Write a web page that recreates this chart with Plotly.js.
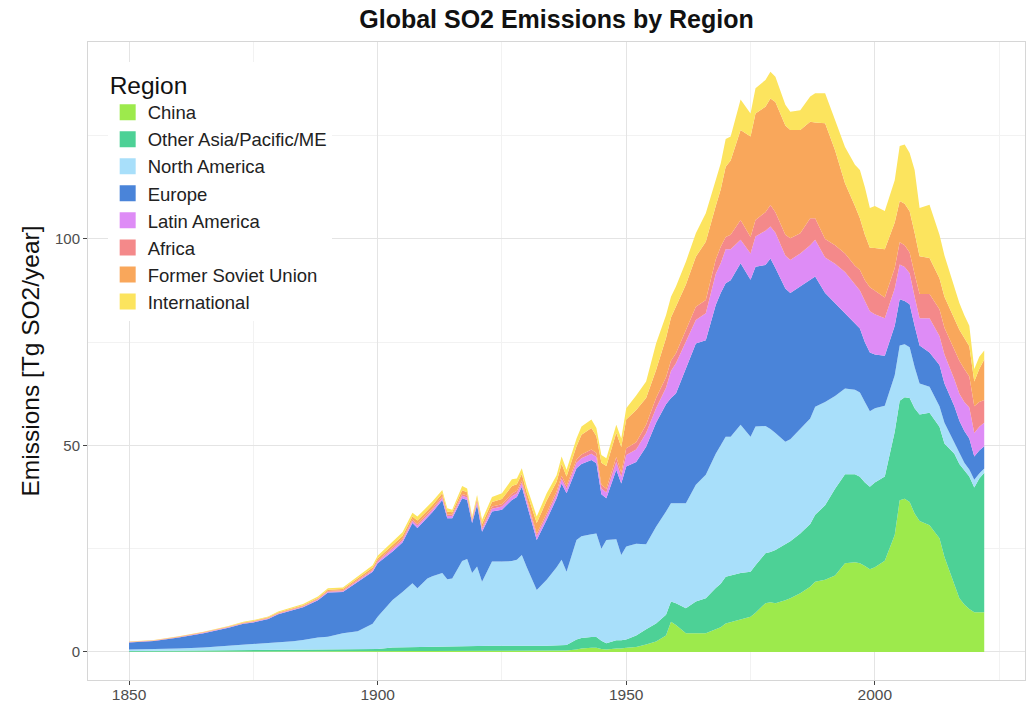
<!DOCTYPE html>
<html>
<head>
<meta charset="utf-8">
<script src="https://cdn.plot.ly/plotly-3.0.1.min.js"></script>
<style>html,body{margin:0;padding:0;background:#fff}#chart{width:1027px;height:702px}</style>
</head>
<body>
<div id="chart"></div>
<script>
const years = [1850,1855,1860,1865,1870,1873,1875,1878,1880,1883,1885,1888,1890,1893,1896,1899,1900,
  1903,1905,1907,1908,1910,1911,1913,1914,1915,1917,1918,1919,1920,1921,1923,1925,1927,1928,1929,1930,1932,1934,1936,1937,1938,1940,1941,1943,1944,1945,1946,1948,1949,1950,
  1952,1954,1956,1958,1959,1960,1962,1964,1966,1968,1969,1970,1971,1973,1975,1976,1978,1979,1980,1982,1983,1985,1987,1988,1990,1992,1994,1996,1997,1998,1999,2000,
  2002,2004,2005,2006,2007,2008,2009,2011,2013,2014,2016,2017,2018,2019,2020,2021,2022];

const china = [.05,.05,.06,.07,.08,.08,.09,.09,.1,.1,.1,.11,.11,.12,.12,.13,.13,
  .2,.2,.2,.2,.25,.25,.25,.25,.25,.3,.3,.3,.3,.3,.3,.3,.3,.3,.3,.3,.3,.3,.35,.35,.35,.6,.8,1.0,1.0,.7,.6,.8,.8,1.0,
  1.2,1.8,2.5,4.0,7.3,6.5,4.5,4.5,4.5,5.5,6.0,6.9,7.2,7.8,8.5,9.5,11.8,12.0,11.8,12.5,13.0,14.2,15.8,17.0,17.5,18.5,21.5,21.7,21.5,20.8,20.0,20.5,
  22.1,28.3,36.7,37.1,36.3,33.5,31.7,30.7,27.5,23.0,16.5,13.0,11.5,10.4,9.6,9.6,9.6];

const otherAsia = [.15,.2,.22,.25,.28,.3,.3,.32,.33,.35,.37,.4,.42,.45,.5,.55,.6,
  .9,.95,1.0,1.0,1.05,1.05,1.1,1.1,1.1,1.15,1.15,1.15,1.15,1.15,1.2,1.2,1.25,1.25,1.25,1.25,1.2,1.2,1.3,1.3,1.3,2.4,2.6,2.6,2.6,2.0,1.5,2.0,2.0,2.0,
  2.8,3.7,4.4,5.0,4.9,5.3,6.1,7.7,8.5,10.0,10.5,11.3,11.3,11.3,10.9,11.5,12.1,12.2,12.9,13.5,13.8,14.5,15.2,16.2,18.0,21.0,21.5,21.3,20.9,20.2,20.0,20.5,
  20.4,25.0,24.1,24.6,25.2,25.5,25.8,27.2,27.0,27.5,31.5,32.5,32.5,32.1,30.2,32.4,33.8];

const northAmerica = [.4,.45,.57,.78,1.14,1.32,1.51,1.69,1.87,2.15,2.43,2.99,3.17,3.93,4.38,6.12,7.77,
  11.5,13.35,15.4,14.2,16.5,17.0,17.75,16.25,16.45,20.55,21.05,17.65,19.25,15.55,20.4,20.4,20.45,20.75,21.95,18.95,13.5,16.0,18.85,20.65,17.75,24.1,24.6,24.9,25.1,22.3,25.0,24.5,20.7,22.5,
  22.2,20.6,23.4,25.0,23.8,24.2,25.4,28.3,29.9,32.5,33.5,33.9,33.6,35.9,32.7,33.6,30.8,29.8,28.3,24.9,24.7,25.3,25.5,26.2,25.0,22.5,20.8,20.5,20.4,19.5,18.3,18.0,
  17.1,13.7,13.4,12.8,12.3,10.0,7.5,6.3,5.0,5.0,2.5,2.5,1.8,1.7,1.9,1.2,1.0];

const europe = [1.7,1.95,2.65,3.45,4.35,5.1,5.25,5.9,6.8,7.45,7.9,9.0,10.7,10.0,11.9,12.6,13.0,
  11.7,12.0,14.6,14.6,14.7,15.5,17.7,14.8,14.6,15.2,14.3,12.1,14.9,12.1,12.1,12.5,14.8,15.2,16.5,15.0,12.1,14.5,16.7,18.5,19.0,17.4,17.5,18.0,17.0,13.2,10.1,16.8,17.3,19.4,
  19.8,23.6,25.2,26.0,25.5,26.6,32.5,34.2,32.6,36.0,36.9,37.2,37.9,39.1,38.0,38.7,39.0,41.3,40.0,37.1,35.4,34.5,33.5,31.5,26.4,22.5,18.2,16.0,15.5,14.5,14.2,13.0,
  12.1,12.0,11.2,10.5,10.4,10.0,9.2,8.3,10.0,9.5,9.0,8.0,7.7,7.5,5.6,5.6,5.4];

const latinAmerica = [.05,.06,.07,.08,.1,.1,.11,.12,.14,.15,.16,.18,.2,.22,.26,.3,.35,
  .5,.5,.5,.55,.55,.55,.5,.5,.5,.6,.6,.45,.6,.6,.7,.8,.9,.9,.9,.9,.9,1.0,1.0,1.1,1.1,1.3,1.4,1.5,1.5,1.4,1.4,1.9,1.6,2.8,
  3.0,3.3,3.5,4.0,6.5,7.3,6.5,5.7,6.5,7.5,7.2,8.2,7.5,5.7,6.4,7.3,8.3,7.7,8.5,8.0,8.0,8.0,8.5,8.9,8.6,9.5,10.0,9.5,9.2,10.0,10.0,9.8,
  9.1,9.0,8.4,8.2,7.5,7.0,6.6,8.3,7.0,7.0,6.5,6.5,7.0,7.5,5.7,5.7,5.7];

const africa = [.05,.06,.07,.08,.1,.1,.11,.12,.14,.15,.16,.17,.18,.2,.23,.28,.3,
  .35,.35,.35,.4,.4,.4,.4,.4,.35,.45,.45,.35,.4,.45,.5,.55,.6,.6,.6,.6,.6,.65,.7,.75,.7,.8,.9,1.0,1.0,.9,.9,1.2,1.0,1.6,
  1.8,2.0,2.5,2.5,2.5,2.4,3.0,3.2,3.2,3.5,4.0,3.0,3.5,4.8,4.0,4.0,4.5,5.2,5.0,5.0,5.3,4.9,6.5,5.2,4.5,4.5,4.5,4.5,5.0,5.0,5.8,5.7,
  5.0,5.0,5.4,5.3,5.0,5.5,5.9,5.9,6.5,6.5,7.0,8.0,8.0,7.5,6.5,6.0,5.5];

const formerSovietUnion = [.05,.06,.07,.09,.1,.12,.13,.14,.17,.18,.2,.23,.27,.3,.36,.45,.5,
  .7,.75,.75,.85,.8,.75,.7,.7,.55,.9,.8,.35,.6,.85,1.1,1.3,1.9,1.6,1.6,1.6,2.6,3.0,2.3,2.9,2.3,3.2,4.8,5.2,4.0,5.3,5.5,5.9,6.2,7.0,
  7.8,6.5,6.8,9.5,10.5,11.3,11.0,12.1,14.1,13.0,13.9,17.0,18.0,21.8,24.3,25.8,25.5,25.8,26.7,26.5,26.2,25.0,23.4,23.2,28.0,23.0,17.0,14.5,12.5,11.0,9.6,10.3,
  11.7,11.0,10.0,10.0,10.0,10.0,9.1,8.7,7.5,7.5,7.5,7.5,7.5,7.3,6.0,8.0,9.8];

const international = [.05,.07,.09,.1,.15,.18,.2,.22,.25,.27,.28,.32,.35,.38,.45,.57,.65,
  .85,.9,.9,1.0,.95,.9,.8,.8,.6,1.05,.95,.45,.8,1.0,1.2,1.35,1.6,1.4,1.4,1.4,1.6,1.75,1.6,1.75,1.6,1.9,2.0,2.1,2.0,1.9,1.9,1.9,2.1,2.7,
  3.5,4.0,6.4,5.5,5.0,4.9,5.5,5.7,6.9,6.0,6.3,6.7,5.8,7.4,5.6,6.1,6.5,6.5,6.1,5.0,4.4,4.8,6.1,7.1,7.3,7.3,8.8,10.0,11.7,11.5,9.6,10.2,
  9.3,10.2,13.3,14.4,14.1,15.2,11.7,12.9,10.5,10.0,7.5,6.5,5.5,5.0,3.0,3.0,2.2];

const regionNames = ["China","Other Asia/Pacific/ME","North America","Europe","Latin America","Africa","Former Soviet Union","International"];
const regionValues = [china, otherAsia, northAmerica, europe, latinAmerica, africa, formerSovietUnion, international];
const regionColors = ["#9DEA4C","#4DD196","#A8DFFA","#4A84D9","#DE8CF6","#F4898A","#F9A75B","#FCE45E"];

const areaTraces = regionNames.map((name, i) => ({
  type: "scatter",
  mode: "lines",
  name: name,
  x: years,
  y: regionValues[i],
  stackgroup: "one",
  line: {width: 0, color: regionColors[i]},
  fillcolor: regionColors[i],
  hoverinfo: "skip",
  showlegend: false,
  legendgroup: name
}));

// legend-only entries with square swatches (no data drawn)
const keyTraces = regionNames.map((name, i) => ({
  type: "scatter",
  mode: "markers",
  name: name,
  x: [null],
  y: [null],
  marker: {symbol: "square", size: 26, color: regionColors[i], line: {width: 0}},
  hoverinfo: "skip",
  showlegend: true,
  legendgroup: name
}));

const font = "Liberation Sans, Arial, Helvetica, sans-serif";
const layout = {
  width: 1027, height: 702,
  margin: {l: 88, r: 2, t: 42, b: 22},
  paper_bgcolor: "#ffffff", plot_bgcolor: "#ffffff",
  font: {family: font, color: "#222"},
  title: {text: "<b>Global SO2 Emissions by Region</b>", x: 0.5, xref: "paper", y: 0.973, yanchor: "middle",
          font: {family: font, size: 25, color: "#111"}},
  xaxis: {
    range: [1841.75, 2030.2], tick0: 1850, dtick: 50, tickmode: "linear",
    showgrid: true, gridcolor: "#E4E4E4", gridwidth: 1,
    minor: {dtick: 25, tick0: 1850, showgrid: true, gridcolor: "#F2F2F2", gridwidth: 1, ticks: ""},
    zeroline: false, showline: true, mirror: true, linecolor: "#D6D6D6", linewidth: 1,
    ticks: "outside", ticklen: 4, tickcolor: "#444", tickwidth: 1,
    ticklabelstandoff: -4,
    tickfont: {family: font, size: 15.5, color: "#4D4D4D"}
  },
  yaxis: {
    range: [-6.8, 147.7], tick0: 0, dtick: 50, tickmode: "linear",
    showgrid: true, gridcolor: "#E4E4E4", gridwidth: 1,
    minor: {dtick: 25, tick0: 0, showgrid: true, gridcolor: "#F2F2F2", gridwidth: 1, ticks: ""},
    zeroline: false, showline: true, mirror: true, linecolor: "#D6D6D6", linewidth: 1,
    ticks: "outside", ticklen: 4, tickcolor: "#444", tickwidth: 1,
    tickfont: {family: font, size: 15, color: "#4D4D4D"},
    title: {text: "Emissions [Tg SO2/year]", standoff: 8, font: {family: font, size: 24.5, color: "#111"}}
  },
  showlegend: true,
  legend: {
    x: 0.021, y: 0.969, xanchor: "left", yanchor: "top",
    bgcolor: "#ffffff", borderwidth: 0,
    traceorder: "normal", itemsizing: "trace",
    title: {text: "Region", font: {family: font, size: 24.5, color: "#111"}},
    font: {family: font, size: 18.5, color: "#222"}
  }
};

Plotly.newPlot("chart", areaTraces.concat(keyTraces), layout, {displayModeBar: false, staticPlot: true});
</script>
</body>
</html>
